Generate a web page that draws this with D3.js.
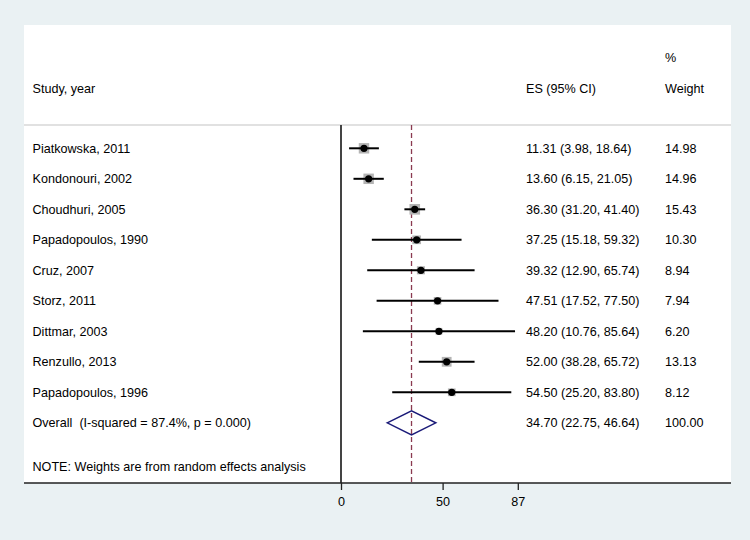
<!DOCTYPE html>
<html><head><meta charset="utf-8">
<script src="https://cdn.jsdelivr.net/npm/d3@7"></script>
<style>body{margin:0;background:#eaf1f3;} text{font-family:"Liberation Sans",Arial,sans-serif;white-space:pre;}</style>
</head><body>
<svg id="chart" width="750" height="540"></svg>
<script>
const studies = ["Piatkowska, 2011","Kondonouri, 2002","Choudhuri, 2005","Papadopoulos, 1990","Cruz, 2007","Storz, 2011","Dittmar, 2003","Renzullo, 2013","Papadopoulos, 1996"];
const es = [11.31,13.60,36.30,37.25,39.32,47.51,48.20,52.00,54.50];
const lo = [3.98,6.15,31.20,15.18,12.90,17.52,10.76,38.28,25.20];
const hi = [18.64,21.05,41.40,59.32,65.74,77.50,85.64,65.72,83.80];
const weights = [14.98,14.96,15.43,10.30,8.94,7.94,6.20,13.13,8.12];
const overall = {label:"Overall  (I-squared = 87.4%, p = 0.000)", es:34.70, lo:22.75, hi:46.64, weight:100.00};
const ticks = [0,50,87];
const note = "NOTE: Weights are from random effects analysis";

const svg = d3.select("#chart");
const fs = "12.6px";
// panel
svg.append("rect").attr("x",24).attr("y",25).attr("width",707).attr("height",458).attr("fill","#ffffff");

const x = d3.scaleLinear().domain([0,87]).range([341,517.8]);
const rowLabels = studies.concat([overall.label]);
const y = d3.scalePoint().domain(d3.range(rowLabels.length)).range([148.3,422.8]);

// header
svg.append("text").attr("x",665).attr("y",58).attr("dy","0.35em").style("font-size",fs).text("%");
svg.append("text").attr("x",32.5).attr("y",89).attr("dy","0.35em").style("font-size",fs).text("Study, year");
svg.append("text").attr("x",526).attr("y",89).attr("dy","0.35em").style("font-size",fs).text("ES (95% CI)");
svg.append("text").attr("x",665).attr("y",89).attr("dy","0.35em").style("font-size",fs).text("Weight");

// top rule
svg.append("line").attr("x1",24).attr("x2",731).attr("y1",125).attr("y2",125).attr("stroke","#c4c4c4").attr("stroke-width",1.2);

// zero line
svg.append("line").attr("x1",x(0)).attr("x2",x(0)).attr("y1",125).attr("y2",483).attr("stroke","#444").attr("stroke-width",2);
// overall dashed line
svg.append("line").attr("x1",x(overall.es)).attr("x2",x(overall.es)).attr("y1",125).attr("y2",483)
  .attr("stroke","#8a3a50").attr("stroke-width",1.3).attr("stroke-dasharray","5,3");

const g = svg.append("g");
studies.forEach((s,i)=>{
  const yy = y(i);
  const side = 2.7*Math.sqrt(weights[i]);
  g.append("rect").attr("x",x(es[i])-side/2).attr("y",yy-side/2).attr("width",side).attr("height",side).attr("fill","#b4b4b4");
  g.append("line").attr("x1",x(lo[i])).attr("x2",x(hi[i])).attr("y1",yy).attr("y2",yy).attr("stroke","#000").attr("stroke-width",2);
  g.append("circle").attr("cx",x(es[i])).attr("cy",yy).attr("r",3.6).attr("fill","#000");
  g.append("text").attr("x",32.5).attr("y",yy).attr("dy","0.35em").style("font-size",fs).text(s);
  g.append("text").attr("x",526).attr("y",yy).attr("dy","0.35em").style("font-size",fs)
    .text(`${es[i].toFixed(2)} (${lo[i].toFixed(2)}, ${hi[i].toFixed(2)})`);
  g.append("text").attr("x",665).attr("y",yy).attr("dy","0.35em").style("font-size",fs).text(weights[i].toFixed(2));
});

// overall
const oy = y(studies.length);
g.append("path").attr("d",`M${x(overall.lo)},${oy} L${x(overall.es)},${oy-12} L${x(overall.hi)},${oy} L${x(overall.es)},${oy+12} Z`)
  .attr("fill","none").attr("stroke","#1a1a78").attr("stroke-width",1.5);
g.append("text").attr("x",32.5).attr("y",oy).attr("dy","0.35em").style("font-size",fs).text(overall.label);
g.append("text").attr("x",526).attr("y",oy).attr("dy","0.35em").style("font-size",fs)
  .text(`${overall.es.toFixed(2)} (${overall.lo.toFixed(2)}, ${overall.hi.toFixed(2)})`);
g.append("text").attr("x",665).attr("y",oy).attr("dy","0.35em").style("font-size",fs).text(overall.weight.toFixed(2));

// note
svg.append("text").attr("x",32.5).attr("y",467).attr("dy","0.35em").style("font-size",fs).text(note);

// axis
svg.append("line").attr("x1",24).attr("x2",731).attr("y1",483).attr("y2",483).attr("stroke","#222").attr("stroke-width",1.5);
const axis = d3.axisBottom(x).tickValues(ticks).tickFormat(d3.format("d")).tickSize(7).tickPadding(7);
const ag = svg.append("g").attr("transform","translate(0,483)").call(axis);
ag.select(".domain").remove();
ag.selectAll(".tick line").attr("stroke","#222").attr("stroke-width",1.3);
ag.selectAll(".tick text").style("font-size",fs).attr("fill","#000").style("font-family","Liberation Sans, Arial, sans-serif");
</script>
</body></html>
